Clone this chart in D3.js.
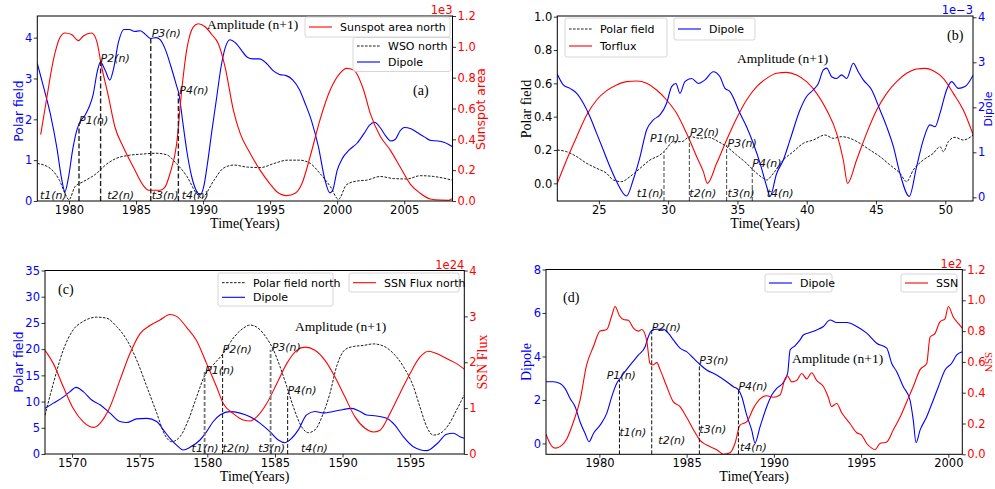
<!DOCTYPE html>
<html>
<head>
<meta charset="utf-8">
<script src="https://cdn.jsdelivr.net/npm/d3@7"></script>
<style>
  body { margin: 0; background: #fff; }
  text { font-family: "DejaVu Sans", sans-serif; }
  .serif { font-family: "Liberation Serif", "Times New Roman", serif; }
</style>
</head>
<body>
<svg id="fig" width="995" height="489"></svg>
<script>
// ---- panel (a) ----
const aYearTicks = [1980, 1985, 1990, 1995, 2000, 2005];
const aLeftTicks = [0, 1, 2, 3, 4];
const aRightTicks = [0, 0.2, 0.4, 0.6, 0.8, 1.0, 1.2];
const aDipole = [[1977.64,3.37],[1978.1,2.8],[1978.6,2.15],[1979.1,1.3],[1979.45,0.55],[1979.7,0.23],[1979.95,0.55],[1980.3,1.3],[1980.6,1.75],[1980.85,1.95],[1981.2,2.1],[1981.5,2.3],[1981.8,2.6],[1982.1,3.15],[1982.35,3.4],[1982.7,3.2],[1983.05,2.96],[1983.3,3.2],[1983.7,3.9],[1984.1,4.2],[1984.5,4.2],[1984.9,4.15],[1985.3,4.17],[1985.7,4.08],[1986.1,3.98],[1986.5,4.0],[1986.8,3.95],[1987.2,3.7],[1987.6,3.3],[1988.0,2.85],[1988.2,2.62],[1988.5,1.9],[1988.8,1.2],[1989.15,0.6],[1989.5,0.25],[1989.8,0.15],[1990.05,0.35],[1990.3,0.85],[1990.65,1.7],[1991.0,2.5],[1991.35,3.3],[1991.65,3.75],[1992.0,3.95],[1992.4,3.88],[1992.8,3.72],[1993.3,3.52],[1993.7,3.48],[1994.2,3.48],[1994.7,3.38],[1995.2,3.2],[1995.7,3.1],[1996.2,3.07],[1996.7,2.96],[1997.2,2.72],[1997.6,2.4],[1998.1,1.95],[1998.6,1.33],[1999.1,0.5],[1999.45,0.2],[1999.65,0.25],[2000.0,0.75],[2000.4,1.05],[2000.9,1.25],[2001.5,1.42],[2002.0,1.65],[2002.4,1.85],[2002.8,1.93],[2003.2,1.8],[2003.6,1.6],[2004.0,1.47],[2004.3,1.5],[2004.7,1.72],[2005.0,1.8],[2005.5,1.77],[2006.0,1.67],[2006.5,1.57],[2007.0,1.48],[2007.5,1.47],[2008.0,1.43],[2008.6,1.33]];
const aWSO = [[1977.64,0.92],[1978.6,0.8],[1979.3,0.5],[1979.8,0.12],[1980.0,0.03],[1980.45,0.35],[1981.05,0.47],[1982.0,0.66],[1982.8,0.9],[1983.5,1.04],[1984.5,1.12],[1985.5,1.15],[1986.5,1.17],[1987.3,1.13],[1988.0,0.92],[1988.8,0.6],[1989.5,0.19],[1989.9,0.08],[1990.8,0.5],[1991.5,0.8],[1992.3,0.88],[1993.3,0.83],[1994.3,0.82],[1995.3,0.92],[1996.3,1.0],[1997.2,1.0],[1998.0,0.92],[1998.7,0.68],[1999.5,0.35],[2000.1,0.04],[2000.7,0.4],[2001.5,0.49],[2002.2,0.51],[2003.2,0.6],[2004.2,0.55],[2005.2,0.54],[2006.2,0.62],[2007.2,0.6],[2008.6,0.51]];
const aArea = [[1977.89,0.43],[1978.33,0.66],[1978.83,0.91],[1979.33,1.06],[1979.7,1.09],[1980.2,1.08],[1980.7,1.04],[1981.07,1.07],[1981.69,1.09],[1982.06,1.04],[1982.44,0.87],[1982.94,0.68],[1983.43,0.48],[1984.05,0.35],[1984.8,0.22],[1985.55,0.10],[1985.92,0.07],[1986.79,0.07],[1987.16,0.09],[1987.54,0.18],[1988.03,0.37],[1988.41,0.72],[1988.78,0.98],[1989.28,1.13],[1989.65,1.15],[1990.15,1.13],[1990.65,1.08],[1991.14,1.02],[1991.64,0.87],[1992.26,0.59],[1992.76,0.44],[1993.51,0.31],[1994.25,0.2],[1995.0,0.11],[1995.5,0.06],[1996.24,0.035],[1996.87,0.05],[1997.36,0.11],[1997.99,0.29],[1998.73,0.53],[1999.48,0.72],[2000.22,0.83],[2000.72,0.86],[2001.22,0.85],[2001.97,0.72],[2002.46,0.57],[2003.21,0.42],[2003.96,0.33],[2004.7,0.22],[2005.45,0.11],[2006.19,0.05],[2006.94,0.013],[2007.69,0.006],[2008.31,0.005],[2008.61,0.017]];
const aCutYears = [1980.75, 1982.36, 1986.1, 1988.16];
const aCutTops = [1.9, 3.45, 4.02, 2.64];
const aPLabelX = [1980.75, 1982.36, 1986.17, 1988.23];
const aPLabelY = [1.89, 3.40, 4.01, 2.62];
const aTLabelX = [1977.84, 1982.86, 1986.17, 1988.41];
const aTLabelY = [0.05, 0.05, 0.05, 0.05];

// ---- panel (b) ----
const bYearTicks = [25, 30, 35, 40, 45, 50];
const bLeftTicks = [0, 0.2, 0.4, 0.6, 0.8, 1.0];
const bRightTicks = [0, 1, 2, 3, 4];
const bTorflux = [[22,0.0],[22.67,0.14],[23.4,0.28],[24.12,0.41],[24.84,0.5],[25.56,0.556],[26.28,0.59],[27.0,0.61],[27.73,0.614],[28.45,0.6],[29.17,0.56],[29.89,0.5],[30.61,0.42],[31.33,0.3],[32.06,0.16],[32.54,0.07],[32.83,0.0],[33.5,0.12],[34.22,0.26],[34.94,0.39],[35.66,0.5],[36.39,0.58],[37.11,0.63],[37.83,0.66],[38.55,0.666],[39.27,0.65],[39.99,0.61],[40.72,0.54],[41.44,0.44],[42.16,0.3],[42.64,0.14],[42.95,0.0],[43.6,0.14],[44.32,0.3],[45.05,0.44],[45.77,0.54],[46.49,0.61],[47.21,0.66],[47.93,0.686],[48.53,0.69],[49.13,0.676],[49.86,0.63],[50.58,0.54],[51.3,0.44],[52.02,0.29]];
const bDipole = [[22,2.74],[22.43,2.5],[22.91,2.42],[23.4,2.31],[23.88,2.09],[24.36,1.79],[24.84,1.42],[25.32,1.05],[25.8,0.68],[26.28,0.35],[27.0,0.03],[27.48,0.39],[27.97,0.9],[28.45,1.5],[28.93,1.72],[29.41,1.83],[29.89,2.09],[30.25,2.46],[30.56,2.53],[30.85,2.31],[31.21,2.57],[31.69,2.64],[32.18,2.53],[32.66,2.61],[33.26,2.79],[33.74,2.68],[34.1,2.42],[34.46,2.35],[35.18,1.87],[35.66,1.57],[36.14,1.2],[36.63,0.76],[37.11,0.24],[37.35,0.02],[37.83,0.53],[38.31,0.83],[38.79,1.27],[39.51,1.94],[39.99,2.24],[40.48,2.39],[40.84,2.53],[41.2,2.83],[41.44,2.87],[41.8,2.68],[42.16,2.64],[42.52,2.72],[42.88,2.64],[43.36,2.98],[43.72,2.79],[44.08,2.61],[44.68,2.39],[45.29,1.94],[45.77,1.57],[46.25,1.13],[46.73,0.53],[47.4,0.02],[47.93,0.68],[48.41,1.27],[48.89,1.61],[49.26,1.57],[49.62,1.87],[50.1,2.39],[50.46,2.57],[50.94,2.42],[51.42,2.46],[52.02,2.72]];
const bPolar = [[22,0.2],[22.67,0.19],[23.4,0.16],[24.12,0.12],[24.84,0.09],[25.56,0.06],[26.04,0.02],[26.64,0.01],[27.24,0.04],[27.97,0.09],[28.69,0.14],[29.41,0.17],[29.77,0.196],[30.37,0.25],[30.97,0.25],[31.57,0.28],[32.3,0.27],[32.9,0.276],[33.62,0.25],[34.22,0.22],[34.94,0.17],[35.66,0.12],[36.14,0.08],[36.87,0.03],[37.11,0.02],[37.59,0.06],[38.31,0.14],[39.03,0.19],[39.75,0.24],[40.48,0.26],[41.32,0.29],[41.92,0.27],[42.52,0.28],[43.12,0.27],[43.84,0.24],[44.56,0.2],[45.29,0.16],[46.01,0.11],[46.73,0.06],[47.21,0.01],[47.69,0.08],[48.41,0.14],[49.13,0.18],[49.62,0.22],[49.86,0.19],[50.22,0.25],[50.7,0.276],[51.3,0.26],[52.02,0.29]];
const bCutYears = [29.7, 31.53, 34.22, 36.07];
const bCutTops = [0.19, 0.29, 0.23, 0.11];
const bPLabelX = [28.69, 31.57, 34.29, 36.07];
const bPLabelY = [0.246, 0.286, 0.216, 0.096];
const bTLabelX = [27.73, 31.53, 34.29, 37.11];
const bTLabelY = [-0.084, -0.084, -0.084, -0.084];

// ---- panel (c) ----
const cYearTicks = [1570, 1575, 1580, 1585, 1590, 1595];
const cLeftTicks = [0, 5, 10, 15, 20, 25, 30, 35];
const cRightTicks = [0, 1, 2, 3, 4];
const cPolar = [[1568,7.4],[1568.62,13.5],[1569.36,19.9],[1570.09,23.7],[1570.83,25.3],[1571.82,26.1],[1572.56,25.9],[1573.3,24.3],[1574.04,21.8],[1574.78,17.9],[1575.52,12.9],[1576.26,7.8],[1576.87,3.6],[1577.36,2.35],[1577.98,3.3],[1578.6,6.5],[1579.21,10.9],[1579.83,15.1],[1580.44,17.0],[1581.18,19.2],[1581.92,22.1],[1582.66,24.0],[1583.16,24.6],[1583.65,24.2],[1584.39,22.1],[1584.88,19.9],[1585.37,16.7],[1585.87,12.9],[1586.36,9.0],[1586.97,5.2],[1587.47,4.07],[1587.96,4.6],[1588.58,7.8],[1589.07,11.6],[1589.56,16.7],[1590.18,19.9],[1590.79,20.5],[1591.53,20.7],[1592.27,21.0],[1593.01,20.6],[1593.75,19.2],[1594.49,16.7],[1595.23,12.9],[1595.72,9.0],[1596.22,5.2],[1596.71,3.6],[1597.2,3.9],[1597.82,5.5],[1598.43,8.4],[1599.0,11.3]];
const cDipole = [[1568,8.7],[1568.62,9.7],[1569.36,10.9],[1569.85,11.9],[1570.29,12.7],[1570.83,11.9],[1571.45,10.3],[1572.07,9.4],[1572.81,7.8],[1573.54,6.2],[1574.04,6.0],[1574.78,6.7],[1575.52,6.8],[1576.26,6.2],[1576.75,4.6],[1577.24,3.0],[1577.73,1.7],[1578.23,0.76],[1578.72,1.27],[1579.46,2.67],[1579.95,4.26],[1580.44,6.2],[1580.94,7.45],[1581.68,8.08],[1582.42,7.8],[1583.16,7.1],[1583.89,5.9],[1584.63,4.26],[1585.25,2.67],[1585.74,2.16],[1586.24,3.0],[1586.73,4.6],[1587.34,7.45],[1587.96,8.1],[1588.58,7.8],[1589.32,8.1],[1590.06,8.5],[1590.67,8.7],[1591.29,8.1],[1591.78,7.45],[1592.52,7.26],[1593.26,6.8],[1593.87,5.5],[1594.49,3.3],[1595.23,1.4],[1596.22,0.64],[1596.96,1.9],[1597.69,3.75],[1598.19,3.95],[1598.68,3.3],[1599.0,3.0]];
const cFlux = [[1568,2.26],[1568.62,1.97],[1569.36,1.46],[1570.09,0.99],[1570.83,0.70],[1571.57,0.58],[1572.07,0.67],[1572.81,1.03],[1573.54,1.61],[1574.28,2.19],[1575.02,2.62],[1575.76,2.8],[1576.5,2.92],[1577.24,3.04],[1577.73,3.0],[1578.47,2.76],[1579.21,2.47],[1579.95,1.97],[1580.69,1.46],[1581.18,1.1],[1581.92,0.88],[1582.66,0.74],[1583.16,0.72],[1583.65,0.81],[1584.39,1.1],[1585.13,1.53],[1585.87,1.97],[1586.61,2.26],[1587.22,2.33],[1587.96,2.26],[1588.7,2.04],[1589.44,1.68],[1590.18,1.24],[1590.92,0.81],[1591.66,0.56],[1592.27,0.48],[1592.77,0.52],[1593.5,0.88],[1594.24,1.32],[1594.98,1.75],[1595.72,2.11],[1596.34,2.24],[1596.96,2.19],[1597.69,2.08],[1598.43,1.97],[1599.0,1.85]];
const cCutYears = [1579.8, 1581.13, 1584.68, 1585.94];
const cCutTops = [15.7, 19.2, 19.9, 11.6];
const cPLabelX = [1579.83, 1581.13, 1584.76, 1585.92];
const cPLabelY = [15.28, 19.22, 19.73, 11.46];
const cTLabelX = [1578.84, 1581.13, 1583.77, 1586.93];
const cTLabelY = [0.32, 0.32, 0.32, 0.32];

// ---- panel (d) ----
const dYearTicks = [1980, 1985, 1990, 1995, 2000];
const dLeftTicks = [0, 2, 4, 6, 8];
const dRightTicks = [0, 0.2, 0.4, 0.6, 0.8, 1.0, 1.2];
const dDipole = [[1976.94,2.84],[1977.36,2.84],[1977.75,2.76],[1978.03,2.53],[1978.32,2.07],[1978.61,1.69],[1978.89,1.0],[1979.18,0.46],[1979.41,0.08],[1979.66,0.46],[1980.04,0.84],[1980.42,1.38],[1980.71,2.15],[1980.99,2.76],[1981.15,2.95],[1981.47,3.3],[1981.85,3.69],[1982.24,4.07],[1982.62,4.45],[1982.81,4.92],[1983.0,5.19],[1983.29,5.25],[1983.67,5.25],[1983.95,5.07],[1984.24,4.76],[1984.62,4.38],[1985.0,4.22],[1985.39,3.92],[1985.73,3.66],[1986.15,3.38],[1986.72,3.15],[1987.3,2.84],[1987.68,2.61],[1987.97,2.46],[1988.16,2.15],[1988.44,1.31],[1988.73,0.61],[1988.92,0.03],[1989.21,0.77],[1989.59,1.69],[1989.88,2.23],[1990.16,2.53],[1990.54,2.8],[1990.79,3.23],[1990.93,4.3],[1991.21,4.49],[1991.5,4.76],[1991.69,4.99],[1992.07,5.1],[1992.45,5.22],[1992.84,5.38],[1993.22,5.68],[1993.6,5.56],[1994.17,5.56],[1994.75,5.38],[1995.32,5.07],[1995.89,4.61],[1996.47,4.38],[1996.75,3.69],[1997.04,3.3],[1997.42,2.61],[1997.8,2.0],[1997.99,1.07],[1998.15,0.03],[1998.38,0.61],[1998.76,1.23],[1999.14,2.0],[1999.43,2.61],[1999.81,3.38],[2000.19,3.69],[2000.48,4.07],[2000.8,4.22]];
const dSSN = [[1976.94,0.13],[1977.17,0.07],[1977.46,0.04],[1977.75,0.05],[1978.13,0.10],[1978.51,0.21],[1978.89,0.35],[1979.27,0.58],[1979.66,0.70],[1980.04,0.80],[1980.42,0.81],[1980.71,0.90],[1980.9,0.96],[1981.15,0.90],[1981.38,0.876],[1981.66,0.87],[1981.95,0.82],[1982.24,0.80],[1982.43,0.81],[1982.71,0.74],[1982.9,0.59],[1983.06,0.58],[1983.29,0.595],[1983.48,0.55],[1983.86,0.44],[1984.24,0.34],[1984.62,0.31],[1985.0,0.24],[1985.39,0.16],[1985.77,0.09],[1986.15,0.06],[1986.72,0.03],[1987.11,0.0],[1987.49,0.01],[1987.77,0.07],[1988.06,0.19],[1988.44,0.21],[1988.83,0.30],[1989.21,0.36],[1989.59,0.38],[1989.97,0.37],[1990.35,0.385],[1990.64,0.49],[1990.77,0.51],[1991.02,0.47],[1991.31,0.48],[1991.6,0.525],[1991.88,0.49],[1992.17,0.53],[1992.45,0.48],[1992.84,0.44],[1993.12,0.37],[1993.31,0.31],[1993.6,0.33],[1993.89,0.27],[1994.36,0.2],[1994.75,0.14],[1995.03,0.125],[1995.32,0.07],[1995.61,0.04],[1995.8,0.03],[1996.08,0.07],[1996.47,0.08],[1996.85,0.16],[1997.23,0.24],[1997.61,0.34],[1997.99,0.44],[1998.38,0.55],[1998.76,0.59],[1998.95,0.76],[1999.24,0.785],[1999.52,0.86],[1999.81,0.88],[2000.0,0.96],[2000.29,0.89],[2000.57,0.85],[2000.8,0.82]];
const dCutYears = [1981.15, 1983.0, 1985.73, 1987.97];
const dCutTops = [2.92, 5.22, 3.66, 2.49];
const dPLabelX = [1980.42, 1983.0, 1985.73, 1987.97];
const dPLabelY = [2.96, 5.19, 3.66, 2.47];
const dTLabelX = [1981.15, 1983.38, 1985.73, 1988.06];
const dTLabelY = [0.35, -0.03, 0.46, -0.34];

const BLUE = "#0000ff", RED = "#ff0000", BLACK = "#000";
const svg = d3.select("#fig");
svg.append("rect").attr("width", 995).attr("height", 489).attr("fill", "#fff");

let clipCount = 0;

function drawPanel(p) {
  const g = svg.append("g");
  const box = p.box;
  const x = d3.scaleLinear().domain(p.xDomain).range([box.l, box.r]);
  const yL = d3.scaleLinear().domain(p.yLeft).range([box.b, box.t]);
  const yR = d3.scaleLinear().domain(p.yRight).range([box.b, box.t]);

  const cid = "clip" + (clipCount++);
  svg.append("clipPath").attr("id", cid).append("rect")
    .attr("x", box.l).attr("y", box.t)
    .attr("width", box.r - box.l).attr("height", box.b - box.t);
  const plot = g.append("g").attr("clip-path", `url(#${cid})`);

  // curves
  p.series.forEach(s => {
    const y = s.axis === "right" ? yR : yL;
    plot.append("path")
      .datum(s.data)
      .attr("fill", "none")
      .attr("stroke", s.color)
      .attr("stroke-width", s.dash ? 0.9 : 1.1)
      .attr("stroke-dasharray", s.dash || null)
      .attr("d", d3.line().x(d => x(d[0])).y(d => y(d[1])).curve(d3.curveMonotoneX));
  });

  // vertical cut lines
  p.cuts.years.forEach((yr, i) => {
    const st = p.cutStyle[i];
    plot.append("line")
      .attr("x1", x(yr)).attr("x2", x(yr))
      .attr("y1", box.b).attr("y2", yL(p.cuts.tops[i]))
      .attr("stroke", st.color)
      .attr("stroke-width", st.width)
      .attr("stroke-dasharray", st.dash);
  });

  // P / t labels
  const lab = g.append("g").attr("font-size", 11).attr("font-style", "italic").attr("fill", "#111");
  p.pLabels.x.forEach((v, i) => {
    lab.append("text").attr("x", x(v)).attr("y", yL(p.pLabels.y[i])).text(`P${i + 1}(n)`);
  });
  p.tLabels.x.forEach((v, i) => {
    lab.append("text").attr("x", x(v)).attr("y", yL(p.tLabels.y[i])).text(`t${i + 1}(n)`);
  });

  // axes
  const styleAxis = (ax, color) => {
    ax.select(".domain").remove();
    ax.selectAll(".tick line").attr("stroke", BLACK).attr("stroke-width", 0.8);
    ax.selectAll(".tick text").attr("fill", color).attr("font-size", 11.5)
      .attr("font-family", "DejaVu Sans, sans-serif");
  };
  g.append("g").attr("transform", `translate(0,${box.b})`)
    .call(d3.axisBottom(x).tickValues(p.xTicks).tickSize(3.5).tickPadding(1.5).tickFormat(d3.format("d")))
    .call(ax => styleAxis(ax, BLACK));
  g.append("g").attr("transform", `translate(${box.l},0)`)
    .call(d3.axisLeft(yL).tickValues(p.leftTicks).tickSize(3.5).tickPadding(1.5).tickFormat(d3.format(p.leftFmt)))
    .call(ax => styleAxis(ax, p.leftColor));
  g.append("g").attr("transform", `translate(${box.r},0)`)
    .call(d3.axisRight(yR).tickValues(p.rightTicks).tickSize(3.5).tickPadding(1.5).tickFormat(d3.format(p.rightFmt)))
    .call(ax => styleAxis(ax, p.rightColor));

  // spines
  g.append("rect")
    .attr("x", box.l).attr("y", box.t)
    .attr("width", box.r - box.l).attr("height", box.b - box.t)
    .attr("fill", "none").attr("stroke", BLACK).attr("stroke-width", 1);

  // offset text
  g.append("text").attr("x", box.r).attr("y", box.t - 2).attr("text-anchor", "end")
    .attr("font-size", 11.5).attr("fill", p.rightColor).text(p.offset);

  // axis titles
  const yTitle = (t) => {
    g.append("text")
      .attr("class", t.serif ? "serif" : null)
      .attr("transform", `translate(${t.x},${t.y}) rotate(${t.rot})`)
      .attr("text-anchor", "middle")
      .attr("font-size", t.size || (t.serif ? 14 : 12.4))
      .attr("fill", t.color)
      .text(t.text);
  };
  yTitle(p.leftTitle);
  yTitle(p.rightTitle);
  g.append("text").attr("class", "serif")
    .attr("x", (box.l + box.r) / 2).attr("y", box.b + 26.5)
    .attr("text-anchor", "middle").attr("font-size", 14).text("Time(Years)");

  // annotations
  g.append("text").attr("class", "serif").attr("x", p.amp[0]).attr("y", p.amp[1])
    .attr("font-size", 13.5).text("Amplitude (n+1)");
  g.append("text").attr("class", "serif").attr("x", p.tag[0]).attr("y", p.tag[1])
    .attr("font-size", 14).text(p.tagText);

  // legends
  p.legends.forEach(L => {
    const lg = g.append("g");
    lg.append("rect").attr("x", L.x).attr("y", L.y).attr("width", L.w).attr("height", L.h)
      .attr("rx", 2).attr("fill", "#fff").attr("fill-opacity", 0.8)
      .attr("stroke", "#cccccc").attr("stroke-width", 0.8);
    L.rows.forEach(r => {
      lg.append("line").attr("x1", L.x + 4).attr("x2", L.x + 27)
        .attr("y1", r.cy).attr("y2", r.cy)
        .attr("stroke", r.color).attr("stroke-width", r.dash ? 0.9 : 1.1)
        .attr("stroke-dasharray", r.dash || null);
      lg.append("text").attr("x", L.x + 35).attr("y", r.cy + 4)
        .attr("font-size", 11).text(r.label);
    });
  });
}

const DASH = "2.6,1.4";

// (a)
drawPanel({
  box: { l: 37.3, r: 452.5, t: 16, b: 201 },
  xDomain: [1977.64, 2008.6], yLeft: [0, 4.53], yRight: [0, 1.2],
  xTicks: aYearTicks, leftTicks: aLeftTicks, rightTicks: aRightTicks,
  leftFmt: "d", rightFmt: ".1f", leftColor: BLUE, rightColor: RED, offset: "1e3",
  series: [
    { data: aDipole, axis: "left", color: BLUE },
    { data: aWSO, axis: "left", color: BLACK, dash: DASH },
    { data: aArea, axis: "right", color: RED }
  ],
  cuts: { years: aCutYears, tops: aCutTops },
  cutStyle: d3.range(4).map(() => ({ color: "#222", width: 1.4, dash: "5,2.5" })),
  pLabels: { x: aPLabelX, y: aPLabelY }, tLabels: { x: aTLabelX, y: aTLabelY },
  leftTitle: { text: "Polar field", x: 23, y: 111, rot: -90, color: BLUE },
  rightTitle: { text: "Sunspot area", x: 485, y: 109, rot: -90, color: RED },
  amp: [207, 28.5], tag: [413, 95], tagText: "(a)",
  legends: [
    { x: 305, y: 17, w: 145, h: 20, rows: [{ label: "Sunspot area north", color: RED, cy: 27 }] },
    { x: 353, y: 37.5, w: 98, h: 34, rows: [
      { label: "WSO north", color: BLACK, dash: DASH, cy: 46 },
      { label: "Dipole", color: BLUE, cy: 62 }] }
  ]
});

// (b)
drawPanel({
  box: { l: 557.3, r: 973, t: 16, b: 201 },
  xDomain: [22, 52], yLeft: [-0.106, 1.004], yRight: [-0.082, 4.029],
  xTicks: bYearTicks, leftTicks: bLeftTicks, rightTicks: bRightTicks,
  leftFmt: ".1f", rightFmt: "d", leftColor: BLACK, rightColor: BLUE, offset: "1e\u22123",
  series: [
    { data: bPolar, axis: "left", color: BLACK, dash: DASH },
    { data: bTorflux, axis: "left", color: RED },
    { data: bDipole, axis: "right", color: BLUE }
  ],
  cuts: { years: bCutYears, tops: bCutTops },
  cutStyle: d3.range(4).map(() => ({ color: "#444", width: 1, dash: "4,2" })),
  pLabels: { x: bPLabelX, y: bPLabelY }, tLabels: { x: bTLabelX, y: bTLabelY },
  leftTitle: { text: "Polar field", x: 531, y: 109, rot: -90, color: BLACK, serif: true },
  rightTitle: { text: "Dipole", x: 992, y: 109, rot: -90, color: BLUE, size: 11 },
  amp: [737, 62.5], tag: [947, 39.5], tagText: "(b)",
  legends: [
    { x: 565, y: 18, w: 102, h: 39, rows: [
      { label: "Polar field", color: BLACK, dash: DASH, cy: 29 },
      { label: "Torflux", color: RED, cy: 46 }] },
    { x: 674, y: 18, w: 81, h: 22, rows: [{ label: "Dipole", color: BLUE, cy: 29 }] }
  ]
});

// (c)
drawPanel({
  box: { l: 45, r: 464.3, t: 270.5, b: 454 },
  xDomain: [1568, 1599], yLeft: [0, 35], yRight: [0, 4],
  xTicks: cYearTicks, leftTicks: cLeftTicks, rightTicks: cRightTicks,
  leftFmt: "d", rightFmt: "d", leftColor: BLUE, rightColor: RED, offset: "1e24",
  series: [
    { data: cPolar, axis: "left", color: BLACK, dash: DASH },
    { data: cDipole, axis: "left", color: BLUE },
    { data: cFlux, axis: "right", color: RED }
  ],
  cuts: { years: cCutYears, tops: cCutTops },
  cutStyle: [
    { color: "#777", width: 1.8, dash: "4,2" }, { color: "#111", width: 1, dash: "4,2" },
    { color: "#777", width: 1.8, dash: "4,2" }, { color: "#111", width: 1, dash: "4,2" }],
  pLabels: { x: cPLabelX, y: cPLabelY }, tLabels: { x: cTLabelX, y: cTLabelY },
  leftTitle: { text: "Polar field", x: 23, y: 362, rot: -90, color: BLUE },
  rightTitle: { text: "SSN Flux", x: 487, y: 362, rot: -90, color: RED, serif: true },
  amp: [295, 331], tag: [58, 293.5], tagText: "(c)",
  legends: [
    { x: 218, y: 273, w: 115, h: 33, rows: [
      { label: "Polar field north", color: BLACK, dash: DASH, cy: 282.7 },
      { label: "Dipole", color: BLUE, cy: 297.3 }] },
    { x: 349, y: 273, w: 110, h: 19, rows: [{ label: "SSN Flux north", color: RED, cy: 282.7 }] }
  ]
});

// (d)
drawPanel({
  box: { l: 546, r: 962.3, t: 269.5, b: 454.3 },
  xDomain: [1976.94, 2000.8], yLeft: [-0.5, 8], yRight: [0, 1.2],
  xTicks: dYearTicks, leftTicks: dLeftTicks, rightTicks: dRightTicks,
  leftFmt: "d", rightFmt: ".1f", leftColor: BLUE, rightColor: RED, offset: "1e2",
  series: [
    { data: dDipole, axis: "left", color: BLUE },
    { data: dSSN, axis: "right", color: RED }
  ],
  cuts: { years: dCutYears, tops: dCutTops },
  cutStyle: d3.range(4).map(() => ({ color: "#111", width: 1, dash: "4,2" })),
  pLabels: { x: dPLabelX, y: dPLabelY }, tLabels: { x: dTLabelX, y: dTLabelY },
  leftTitle: { text: "Dipole", x: 531, y: 362, rot: -90, color: BLUE, serif: true },
  rightTitle: { text: "SSN", x: 985, y: 362, rot: 90, color: RED, serif: true, size: 11 },
  amp: [792, 362.5], tag: [563, 301.5], tagText: "(d)",
  legends: [
    { x: 765, y: 274, w: 67, h: 18, rows: [{ label: "Dipole", color: BLUE, cy: 283 }] },
    { x: 901, y: 274, w: 56, h: 18, rows: [{ label: "SSN", color: RED, cy: 283 }] }
  ]
});
</script>
</body>
</html>
